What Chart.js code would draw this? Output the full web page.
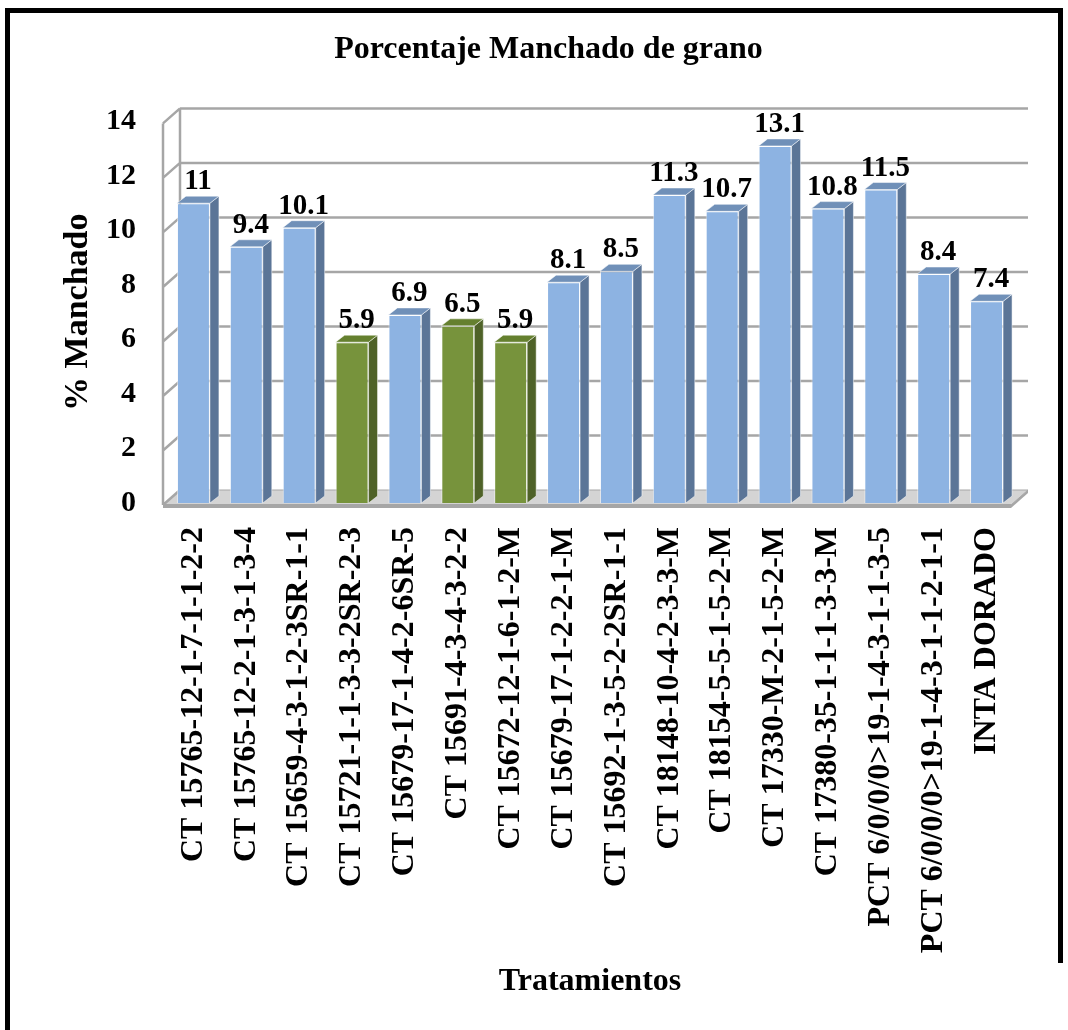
<!DOCTYPE html>
<html>
<head>
<meta charset="utf-8">
<script src="https://cdn.jsdelivr.net/npm/chart.js@4.4.1/dist/chart.umd.min.js"></script>
<style>
  html, body { margin: 0; padding: 0; background: #fff; }
  #wrap { width: 1068px; height: 1030px; }
</style>
</head>
<body>
<div id="wrap"><canvas id="chart1" width="1068" height="1030"></canvas></div>
<script>
// datos
const xlabels = [
  "CT 15765-12-1-7-1-1-2-2",
  "CT 15765-12-2-1-3-1-3-4",
  "CT 15659-4-3-1-2-3SR-1-1",
  "CT 15721-1-1-3-3-2SR-2-3",
  "CT 15679-17-1-4-2-6SR-5",
  "CT 15691-4-3-4-3-2-2",
  "CT 15672-12-1-6-1-2-M",
  "CT 15679-17-1-2-2-1-M",
  "CT 15692-1-3-5-2-2SR-1-1",
  "CT 18148-10-4-2-3-3-M",
  "CT 18154-5-5-1-5-2-M",
  "CT 17330-M-2-1-5-2-M",
  "CT 17380-35-1-1-1-3-3-M",
  "PCT 6/0/0/0>19-1-4-3-1-1-3-5",
  "PCT 6/0/0/0>19-1-4-3-1-1-2-1-1",
  "INTA DORADO"
];
const manchado = [11, 9.4, 10.1, 5.9, 6.9, 6.5, 5.9, 8.1, 8.5, 11.3, 10.7, 13.1, 10.8, 11.5, 8.4, 7.4];
const verdes = [3, 5, 6]; // barras resaltadas en verde
const ymin = 0, ymax = 14, ystep = 2;

const fuente = "'Liberation Serif', 'Times New Roman', serif";
Chart.defaults.font.family = fuente;
Chart.defaults.color = '#000';

const azul = { front: '#8db3e2', side: '#5b7597', top: '#7090b8' };
const verde = { front: '#77933c', side: '#4f6228', top: '#65802f' };
const colores = manchado.map((v, i) => verdes.includes(i) ? verde : azul);

// efecto 3d (pared, piso, caras laterales)
const marco3d = {
  id: 'marco3d',
  beforeDraw(chart) {
    const c = chart.ctx;
    c.save();
    c.fillStyle = '#fff';
    c.fillRect(0, 0, chart.width, chart.height);
    c.fillStyle = '#000';
    c.fillRect(5, 8, 5, chart.height - 8);
    c.fillRect(5, 8, 1058, 5);
    c.fillRect(1058, 8, 5, 955);
    c.restore();
  },
  beforeDatasetsDraw(chart) {
    const c = chart.ctx, ca = chart.chartArea, y = chart.scales.y;
    const dx = 17, dy = -15;
    const fl = ca.left - 4, fr = ca.right - 2, yb = ca.bottom + 2;
    c.save();
    // piso
    c.beginPath();
    c.moveTo(fl, yb); c.lineTo(fr, yb); c.lineTo(fr + dx, yb + dy); c.lineTo(fl + dx, yb + dy);
    c.closePath();
    c.fillStyle = '#d4d4d4';
    c.fill();
    c.strokeStyle = '#a6a6a6';
    c.lineWidth = 1;
    c.stroke();
    c.fillStyle = '#a6a6a6';
    c.fillRect(fl, yb - 1, fr - fl, 4);
    c.beginPath();
    c.moveTo(fr, yb + 3); c.lineTo(fr + dx, yb + dy + 3); c.lineTo(fr + dx, yb + dy); c.lineTo(fr, yb);
    c.fill();
    // pared lateral y rejilla
    c.strokeStyle = '#a6a6a6';
    c.lineWidth = 2.5;
    const ytop = y.getPixelForValue(ymax) + 2;
    c.beginPath();
    c.moveTo(fl, yb); c.lineTo(fl, ytop);
    c.moveTo(fl + dx, yb + dy); c.lineTo(fl + dx, ytop + dy);
    for (let v = ymin; v <= ymax; v += ystep) {
      const py = y.getPixelForValue(v) + 2;
      c.moveTo(fl, py); c.lineTo(fl + dx, py + dy);
      if (v > ymin) { c.moveTo(fl + dx, py + dy); c.lineTo(fr + dx, py + dy); }
    }
    c.stroke();
    c.restore();
  },
  afterDatasetsDraw(chart) {
    const c = chart.ctx;
    const meta = chart.getDatasetMeta(0);
    const bx = 9, by = -7;
    c.save();
    meta.data.forEach((bar, i) => {
      const p = bar.getProps(['x', 'y', 'base', 'width'], true);
      const l = p.x - p.width / 2, r = p.x + p.width / 2;
      const col = colores[i];
      c.strokeStyle = 'rgba(255,255,255,0.5)';
      c.lineWidth = 1;
      // lateral
      c.beginPath();
      c.moveTo(r, p.y); c.lineTo(r + bx, p.y + by); c.lineTo(r + bx, p.base + by); c.lineTo(r, p.base);
      c.closePath();
      c.fillStyle = col.side; c.fill(); c.stroke();
      // tapa
      c.beginPath();
      c.moveTo(l, p.y); c.lineTo(l + bx, p.y + by); c.lineTo(r + bx, p.y + by); c.lineTo(r, p.y);
      c.closePath();
      c.fillStyle = col.top; c.fill(); c.stroke();
      // etiqueta
      c.fillStyle = '#000';
      c.font = 'bold 29px ' + fuente;
      c.textAlign = 'center';
      c.textBaseline = 'alphabetic';
      c.fillText(String(manchado[i]), p.x + 4.5, p.y - 14);
    });
    c.restore();
  }
};

const ctx = document.getElementById('chart1').getContext('2d');
const myChart = new Chart(ctx, {
  type: 'bar',
  data: {
    labels: xlabels,
    datasets: [{
      data: manchado,
      backgroundColor: colores.map(c => c.front),
      borderColor: 'rgba(255,255,255,0.55)',
      borderWidth: 1,
      barPercentage: 0.624,
      categoryPercentage: 1
    }]
  },
  options: {
    responsive: false,
    animation: false,
    layout: { padding: { left: 29, right: 0, top: 0, bottom: 29 } },
    plugins: {
      legend: { display: false },
      tooltip: { enabled: false },
      title: {
        display: true,
        text: 'Porcentaje Manchado de grano',
        color: '#000',
        font: { size: 32, weight: 'bold' },
        padding: { top: 31, bottom: 52 }
      }
    },
    scales: {
      x: {
        grid: { display: false, drawTicks: false },
        border: { display: false },
        ticks: { autoSkip: false, minRotation: 90, maxRotation: 90, padding: 24, color: '#000', font: { size: 32, weight: 'bold' } },
        title: { display: true, text: 'Tratamientos', color: '#000', padding: 0, font: { size: 32, weight: 'bold' } },
        afterFit: s => { s.height = 498; }
      },
      y: {
        min: ymin,
        max: ymax,
        grid: { display: false, drawTicks: false },
        border: { display: false },
        ticks: { stepSize: ystep, padding: 31, color: '#000', font: { size: 30, weight: 'bold' } },
        title: { display: true, text: '% Manchado', color: '#000', padding: { top: 29, bottom: 0 }, font: { size: 34, weight: 'bold' } },
        afterFit: s => { s.width = 138; }
      },
      margen: {
        type: 'linear',
        position: 'right',
        grid: { display: false, drawTicks: false },
        border: { display: false },
        ticks: { display: false },
        afterFit: s => { s.width = 55; }
      }
    }
  },
  plugins: [marco3d]
});
</script>
</body>
</html>
